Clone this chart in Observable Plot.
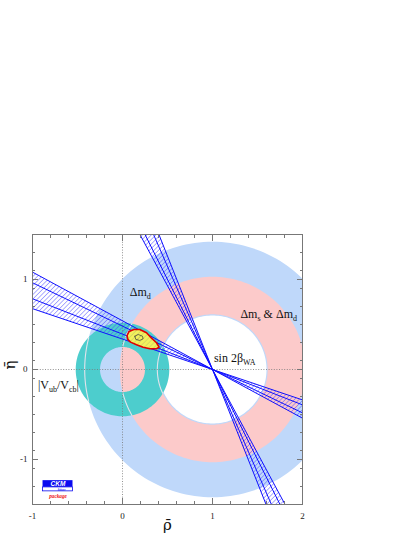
<!DOCTYPE html>
<html><head><meta charset="utf-8">
<script src="https://cdn.jsdelivr.net/npm/d3@7"></script>
<script src="https://cdn.jsdelivr.net/npm/@observablehq/plot@0.6"></script>
<style>html,body{margin:0;padding:0;background:#fff}svg{display:block}</style>
</head><body><div id="chart"></div>
<script>
// ---- data ----
const xDomain = [-1, 2];
const yDomain = [-1.5, 1.5];
const xTickLabels = [-1, 0, 1, 2];
const yTickLabels = [-1, 0, 1];
const minorStep = 0.2;

// annular constraints: centre on rho axis, inner/outer radius, colour
const ringNames   = ["dmd", "dms_dmd", "vub_vcb"];
const ringCenter  = [1, 1, 0];
const ringInner   = [0.60, 0.613, 0.25];
const ringOuter   = [1.42, 1.03, 0.52];
const ringColors  = ["#bfd8fa", "#fccaca", "#4dcdcd"];
// boundaries of the Δm rings that show as light arcs through the |Vub/Vcb| ring
const edgeRadii   = [1.42, 1.03, 0.613];

// sin 2beta: lines through the apex (1,0), slopes d(eta)/d(rho)
const apex = [1, 0];
const shallowSlopes = [-0.541, -0.482, -0.393, -0.338];
const steepSlopes   = [-1.86, -2.0, -2.29, -2.52];

// global fit contour (red) and inner core (black)
const fitRho = [0.051,0.073,0.126,0.192,0.267,0.323,0.378,0.407,0.378,0.304,0.229,0.156,0.089,0.059];
const fitEta = [0.378,0.423,0.445,0.445,0.408,0.348,0.297,0.248,0.230,0.230,0.248,0.275,0.304,0.334];
const coreRho = [0.137,0.174,0.222,0.229,0.192,0.148];
const coreEta = [0.370,0.389,0.370,0.341,0.323,0.334];

// labels
const labelText = ["Δm_{d}", "Δm_{s} & Δm_{d}", "sin 2β_{WA}", "|V_{ub}/V_{cb}|"];
const labelRho  = [0.08, 1.31, 1.016, -0.94];
const labelEta  = [0.86, 0.61, 0.13, -0.175];

// logo
const logoWords = ["CKM", "fitter", "package"];
const logoRho = [-0.883, -0.55];
const logoEta = [-1.235, -1.31, -1.354, -1.405];

// ---- helpers ----
const circlePts = (cx, r, rev, step = 2) => {
  const a = d3.range(0, 360 + step / 2, step).map(d => d * Math.PI / 180);
  if (rev) a.reverse();
  return a.map(t => ({x: cx + r * Math.cos(t), y: r * Math.sin(t)}));
};
const ringPts = (cx, r0, r1) => circlePts(cx, r1, false).concat(circlePts(cx, r0, true));
// part of a circle about (1,0) lying inside the |Vub/Vcb| annulus
const arcInVub = r => circlePts(1, r, false, 0.5).map(p => {
  const d = Math.hypot(p.x - ringCenter[2], p.y);
  return d >= ringInner[2] && d <= ringOuter[2] ? p : {x: NaN, y: NaN};
});

const wedge = [];
const lines = [];
[[-1.6, "sl"], [2.6, "sr"]].forEach(([xe, id]) => {
  wedge.push({id, x: apex[0], y: apex[1]});
  wedge.push({id, x: xe, y: shallowSlopes[0] * (xe - apex[0])});
  wedge.push({id, x: xe, y: shallowSlopes[3] * (xe - apex[0])});
});
[[1.7, "tt"], [-1.7, "tb"]].forEach(([ye, id]) => {
  wedge.push({id, x: apex[0], y: apex[1]});
  wedge.push({id, x: apex[0] + ye / steepSlopes[0], y: ye});
  wedge.push({id, x: apex[0] + ye / steepSlopes[3], y: ye});
});
shallowSlopes.forEach((s, i) => {
  lines.push({id: "s" + i, x: -1.6, y: s * (-1.6 - apex[0])});
  lines.push({id: "s" + i, x: 2.6, y: s * (2.6 - apex[0])});
});
steepSlopes.forEach((s, i) => {
  lines.push({id: "t" + i, x: apex[0] + 1.7 / s, y: 1.7});
  lines.push({id: "t" + i, x: apex[0] - 1.7 / s, y: -1.7});
});

const fit = fitRho.map((r, i) => ({x: r, y: fitEta[i]}));
fit.push(fit[0]);
const core = coreRho.map((r, i) => ({x: r, y: coreEta[i]}));
core.push(core[0]);

const labels = labelText.map((t, i) => ({t, x: labelRho[i], y: labelEta[i]}));
const minorX = d3.range(xDomain[0], xDomain[1] + 1e-9, minorStep);
const minorY = d3.range(yDomain[0], yDomain[1] + 1e-9, minorStep);

const serif = "'Liberation Serif', 'Times New Roman', serif";
const tickStroke = "#777";

const marks = [];
ringCenter.forEach((cx, i) => {
  marks.push(Plot.line(ringPts(cx, ringInner[i], ringOuter[i]), {x: "x", y: "y", fill: ringColors[i], stroke: "none", clip: true}));
});
edgeRadii.forEach(r => {
  marks.push(Plot.line(arcInVub(r), {x: "x", y: "y", stroke: "#f3e6ee", strokeWidth: 1.1, strokeOpacity: 0.9, clip: true}));
});
marks.push(
  Plot.ruleX([0], {stroke: "#777", strokeDasharray: "1,1.6", strokeWidth: 0.8}),
  Plot.ruleY([0], {stroke: "#777", strokeDasharray: "1,1.6", strokeWidth: 0.8}),
  Plot.line(wedge, {x: "x", y: "y", z: "id", fill: "url(#hatch)", stroke: "none", clip: true}),
  Plot.line(lines, {x: "x", y: "y", z: "id", stroke: "#1010ff", strokeWidth: 1, clip: true}),
  Plot.line(fit, {x: "x", y: "y", fill: "#f2f25c", stroke: "none"}),
  Plot.line(fit, {x: "x", y: "y", fill: "url(#hatchDark)", stroke: "#e00000", strokeWidth: 1.6}),
  Plot.line(core, {x: "x", y: "y", fill: "url(#hatchDark)", stroke: "#333", strokeWidth: 0.7}),
  // ticks (inward)
  Plot.axisX(minorX, {anchor: "bottom", tickSize: -3, tickFormat: () => "", stroke: tickStroke, label: null}),
  Plot.axisX(minorX, {anchor: "top", tickSize: -3, tickFormat: () => "", stroke: tickStroke, label: null}),
  Plot.axisY(minorY, {anchor: "left", tickSize: -3, tickFormat: () => "", stroke: tickStroke, label: null}),
  Plot.axisY(minorY, {anchor: "right", tickSize: -3, tickFormat: () => "", stroke: tickStroke, label: null}),
  Plot.axisX(xTickLabels, {anchor: "bottom", tickSize: -6, tickFormat: () => "", stroke: tickStroke, label: null}),
  Plot.axisX(xTickLabels, {anchor: "top", tickSize: -6, tickFormat: () => "", stroke: tickStroke, label: null}),
  Plot.axisY(yTickLabels, {anchor: "left", tickSize: -6, tickFormat: () => "", stroke: tickStroke, label: null}),
  Plot.axisY(yTickLabels, {anchor: "right", tickSize: -6, tickFormat: () => "", stroke: tickStroke, label: null}),
  Plot.axisX(xTickLabels, {anchor: "bottom", tickSize: 0, tickPadding: 8, tickFormat: d => String(d), fontSize: 9, fontFamily: serif, fill: "#222", label: null}),
  Plot.axisY(yTickLabels, {anchor: "left", tickSize: 0, tickPadding: 5, tickFormat: d => String(d), fontSize: 9, fontFamily: serif, fill: "#222", label: null}),
  Plot.frame({stroke: "#777"}),
  // labels
  Plot.text(labels, {x: "x", y: "y", text: "t", textAnchor: "start", fontSize: 12, fontFamily: serif, fill: "#111"}),
  Plot.text(["ρ̄"], {frameAnchor: "bottom", dy: 25, fontSize: 15, fontFamily: "'DejaVu Serif', serif", fill: "#111"}),
  Plot.text(["η̄"], {frameAnchor: "left", dx: -22, rotate: -90, fontSize: 15, fontFamily: "'DejaVu Serif', serif", fill: "#111"}),
  // logo
  Plot.rect([0], {x1: logoRho[0], x2: logoRho[1], y1: logoEta[0], y2: logoEta[1], fill: "#0a0af0"}),
  Plot.rect([0], {x1: logoRho[0], x2: logoRho[1], y1: logoEta[1], y2: logoEta[2], fill: "#fff", stroke: "#0a0af0", strokeWidth: 0.8}),
  Plot.text([logoWords[0]], {x: (logoRho[0] + logoRho[1]) / 2, y: (logoEta[0] + logoEta[1]) / 2, dy: -0.6, fontSize: 6.5, fontStyle: "italic", fontWeight: "bold", fontFamily: "'Liberation Sans', sans-serif", fill: "#fff", letterSpacing: "1.8px"}),
  Plot.text([logoWords[1]], {x: (logoRho[0] + logoRho[1]) / 2 + 0.04, y: (logoEta[1] + logoEta[2]) / 2, dy: 0.6, fontSize: 4, fontFamily: "'Liberation Sans', sans-serif", fill: "#0a0af0", letterSpacing: "1px"}),
  Plot.text([logoWords[2]], {x: (logoRho[0] + logoRho[1]) / 2, y: logoEta[3], dy: 0.6, fontSize: 5.2, fontStyle: "italic", fontWeight: "bold", fontFamily: "'Liberation Serif', serif", fill: "#ee1111", letterSpacing: "1.3px"})
);

const svg = Plot.plot({
  width: 415,
  height: 537,
  marginTop: 234,
  marginBottom: 33,
  marginLeft: 32,
  marginRight: 113,
  x: {domain: xDomain, label: null},
  y: {domain: yDomain, label: null},
  axis: null,
  style: {fontFamily: serif, background: "#fff"},
  marks
});

svg.insertAdjacentHTML("afterbegin",
  `<defs>
    <pattern id="hatch" patternUnits="userSpaceOnUse" width="3.2" height="3.2" patternTransform="rotate(45)">
      <line x1="0" y1="0" x2="0" y2="3.2" stroke="#4a4aff" stroke-width="0.9"/>
    </pattern>
    <pattern id="hatchDark" patternUnits="userSpaceOnUse" width="3.5" height="3.5" patternTransform="rotate(45)">
      <line x1="0" y1="0" x2="0" y2="3.5" stroke="#777" stroke-width="0.4"/>
    </pattern>
  </defs>`);

// drop empty tick texts
svg.querySelectorAll("text").forEach(t => { if (!t.textContent.trim()) t.remove(); });

// subscripts: turn "_{..}" into tspans (dy shifts carried by the next run)
svg.querySelectorAll("text").forEach(t => {
  const s = t.textContent;
  if (!s.includes("_{")) return;
  t.textContent = "";
  const ns = "http://www.w3.org/2000/svg";
  const parts = [];
  const re = /_\{([^}]*)\}/g;
  let last = 0, m;
  while ((m = re.exec(s))) {
    if (m.index > last) parts.push({s: s.slice(last, m.index), sub: false});
    parts.push({s: m[1], sub: true});
    last = re.lastIndex;
  }
  if (last < s.length) parts.push({s: s.slice(last), sub: false});
  let prevSub = false;
  parts.forEach(p => {
    const el = document.createElementNS(ns, "tspan");
    el.textContent = p.s;
    if (p.sub) { el.setAttribute("font-size", "8"); el.setAttribute("dy", "3"); }
    else if (prevSub) el.setAttribute("dy", "-3");
    prevSub = p.sub;
    t.appendChild(el);
  });
});

document.getElementById("chart").appendChild(svg);
</script>
</body></html>
